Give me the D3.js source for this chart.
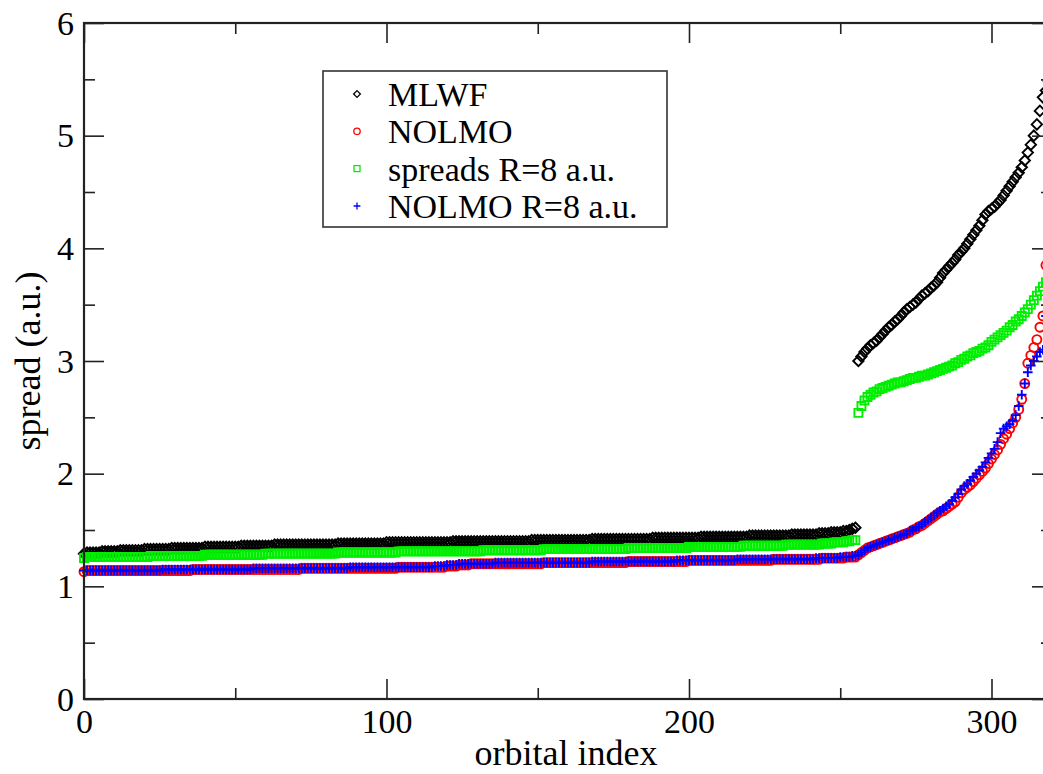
<!DOCTYPE html>
<html>
<head>
<meta charset="utf-8">
<script src="https://cdn.jsdelivr.net/npm/d3@7"></script>
<style>
  html, body { margin: 0; padding: 0; background: #fff; overflow: hidden; }
  svg { display: block; }
</style>
</head>
<body>
<svg id="chart" width="1043" height="774" font-family="Liberation Serif"></svg>
<script>
// Axis ticks
const xMajorTicks = [0, 100, 200, 300];
const xMinorTicks = [50, 150, 250];
const yMajorTicks = [0, 1, 2, 3, 4, 5, 6];
const yMinorTicks = [0.5, 1.5, 2.5, 3.5, 4.5, 5.5];

const seriesNames = ["MLWF", "NOLMO", "spreads R=8 a.u.", "NOLMO R=8 a.u."];

// Spread of each orbital (a.u.), listed by orbital index 0..319
const mlwf = [
  1.29,1.30,1.30,1.30,1.30,1.30,1.31,1.31,1.31,1.31,1.31,1.31,1.32,1.32,1.32,1.32,
  1.32,1.32,1.32,1.32,1.33,1.33,1.33,1.33,1.33,1.33,1.33,1.33,1.33,1.34,1.34,1.34,
  1.34,1.34,1.34,1.34,1.34,1.34,1.34,1.34,1.35,1.35,1.35,1.35,1.35,1.35,1.35,1.35,
  1.35,1.35,1.35,1.35,1.36,1.36,1.36,1.36,1.36,1.36,1.36,1.36,1.36,1.36,1.36,1.37,
  1.37,1.37,1.37,1.37,1.37,1.37,1.37,1.37,1.37,1.37,1.37,1.37,1.37,1.37,1.37,1.37,
  1.37,1.37,1.37,1.37,1.38,1.38,1.38,1.38,1.38,1.38,1.38,1.38,1.38,1.38,1.38,1.38,
  1.38,1.38,1.38,1.38,1.39,1.39,1.39,1.39,1.39,1.39,1.39,1.39,1.39,1.39,1.39,1.39,
  1.39,1.39,1.39,1.39,1.39,1.39,1.39,1.39,1.39,1.39,1.40,1.40,1.40,1.40,1.40,1.40,
  1.40,1.40,1.40,1.40,1.40,1.40,1.40,1.40,1.40,1.40,1.40,1.40,1.40,1.40,1.40,1.40,
  1.40,1.40,1.40,1.40,1.41,1.41,1.41,1.41,1.41,1.41,1.41,1.41,1.41,1.41,1.41,1.41,
  1.41,1.41,1.41,1.41,1.41,1.41,1.41,1.41,1.42,1.42,1.42,1.42,1.42,1.42,1.42,1.42,
  1.42,1.42,1.42,1.42,1.42,1.42,1.42,1.42,1.42,1.42,1.42,1.42,1.43,1.43,1.43,1.43,
  1.43,1.43,1.43,1.43,1.43,1.43,1.43,1.43,1.43,1.43,1.43,1.43,1.44,1.44,1.44,1.44,
  1.44,1.44,1.44,1.44,1.44,1.44,1.44,1.44,1.44,1.44,1.44,1.44,1.45,1.45,1.45,1.45,
  1.45,1.45,1.45,1.45,1.45,1.45,1.45,1.45,1.45,1.45,1.46,1.46,1.46,1.46,1.46,1.46,
  1.46,1.46,1.46,1.47,1.47,1.47,1.47,1.48,1.48,1.48,1.48,1.49,1.49,1.50,1.51,1.52,
  3.00,3.04,3.08,3.11,3.14,3.16,3.18,3.21,3.24,3.27,3.30,3.32,3.35,3.37,3.40,3.43,
  3.46,3.48,3.50,3.52,3.55,3.58,3.60,3.62,3.65,3.67,3.70,3.74,3.78,3.81,3.84,3.87,
  3.90,3.94,3.97,4.00,4.04,4.08,4.12,4.16,4.20,4.25,4.30,4.33,4.35,4.37,4.40,4.43,
  4.47,4.51,4.55,4.59,4.63,4.67,4.72,4.78,4.85,4.92,5.00,5.10,5.22,5.34,5.40,5.48
];

const nolmo = [
  1.13,1.14,1.14,1.14,1.14,1.14,1.14,1.14,1.14,1.14,1.14,1.14,1.14,1.14,1.14,1.14,
  1.14,1.14,1.14,1.14,1.14,1.14,1.14,1.14,1.14,1.14,1.14,1.14,1.14,1.14,1.14,1.14,
  1.14,1.14,1.14,1.14,1.15,1.15,1.15,1.15,1.15,1.15,1.15,1.15,1.15,1.15,1.15,1.15,
  1.15,1.15,1.15,1.15,1.15,1.15,1.15,1.15,1.15,1.15,1.15,1.15,1.15,1.15,1.15,1.15,
  1.15,1.15,1.15,1.15,1.15,1.15,1.15,1.15,1.16,1.16,1.16,1.16,1.16,1.16,1.16,1.16,
  1.16,1.16,1.16,1.16,1.16,1.16,1.16,1.16,1.16,1.16,1.16,1.16,1.16,1.16,1.16,1.16,
  1.16,1.16,1.16,1.16,1.16,1.16,1.16,1.16,1.17,1.17,1.17,1.17,1.17,1.17,1.17,1.17,
  1.17,1.17,1.17,1.17,1.17,1.17,1.17,1.17,1.18,1.18,1.18,1.18,1.19,1.19,1.19,1.19,
  1.20,1.20,1.20,1.20,1.20,1.20,1.20,1.20,1.20,1.20,1.20,1.20,1.20,1.20,1.20,1.20,
  1.20,1.20,1.20,1.20,1.20,1.20,1.20,1.20,1.21,1.21,1.21,1.21,1.21,1.21,1.21,1.21,
  1.21,1.21,1.21,1.21,1.21,1.21,1.21,1.21,1.21,1.21,1.21,1.21,1.21,1.21,1.21,1.21,
  1.21,1.21,1.21,1.21,1.22,1.22,1.22,1.22,1.22,1.22,1.22,1.22,1.22,1.22,1.22,1.22,
  1.22,1.22,1.22,1.22,1.22,1.22,1.22,1.22,1.23,1.23,1.23,1.23,1.23,1.23,1.23,1.23,
  1.23,1.23,1.23,1.23,1.23,1.23,1.23,1.23,1.23,1.23,1.23,1.23,1.23,1.23,1.23,1.23,
  1.23,1.23,1.23,1.23,1.24,1.24,1.24,1.24,1.24,1.24,1.24,1.24,1.24,1.24,1.24,1.24,
  1.24,1.24,1.24,1.24,1.25,1.25,1.25,1.25,1.25,1.25,1.25,1.25,1.26,1.26,1.26,1.26,
  1.28,1.30,1.32,1.34,1.35,1.36,1.37,1.38,1.39,1.40,1.41,1.42,1.43,1.44,1.45,1.46,
  1.47,1.48,1.50,1.51,1.53,1.54,1.56,1.58,1.60,1.62,1.64,1.66,1.67,1.69,1.71,1.73,
  1.75,1.79,1.83,1.86,1.88,1.90,1.93,1.96,1.99,2.02,2.05,2.09,2.13,2.17,2.21,2.26,
  2.31,2.35,2.40,2.45,2.50,2.57,2.66,2.80,2.98,3.05,3.12,3.19,3.30,3.40,3.85,3.95
];

const spreadsR8 = [
  1.25,1.26,1.26,1.26,1.26,1.26,1.26,1.26,1.26,1.26,1.26,1.26,1.26,1.26,1.26,1.26,
  1.26,1.26,1.26,1.26,1.26,1.26,1.27,1.27,1.27,1.27,1.27,1.27,1.27,1.27,1.27,1.27,
  1.27,1.27,1.27,1.27,1.27,1.27,1.27,1.27,1.28,1.28,1.28,1.28,1.28,1.28,1.28,1.28,
  1.28,1.28,1.28,1.28,1.28,1.28,1.28,1.28,1.28,1.28,1.28,1.28,1.29,1.29,1.29,1.29,
  1.29,1.29,1.29,1.29,1.29,1.29,1.29,1.29,1.29,1.29,1.29,1.29,1.29,1.29,1.29,1.29,
  1.29,1.29,1.29,1.29,1.30,1.30,1.30,1.30,1.30,1.30,1.30,1.30,1.30,1.30,1.30,1.30,
  1.30,1.30,1.30,1.30,1.30,1.30,1.30,1.30,1.31,1.31,1.31,1.31,1.31,1.31,1.31,1.31,
  1.31,1.31,1.31,1.31,1.31,1.31,1.31,1.31,1.31,1.31,1.31,1.31,1.31,1.31,1.31,1.31,
  1.31,1.31,1.31,1.31,1.32,1.32,1.32,1.32,1.32,1.32,1.32,1.32,1.32,1.32,1.32,1.32,
  1.32,1.32,1.32,1.32,1.32,1.32,1.32,1.32,1.33,1.33,1.33,1.33,1.33,1.33,1.33,1.33,
  1.33,1.33,1.33,1.33,1.33,1.33,1.33,1.33,1.33,1.33,1.33,1.33,1.33,1.33,1.33,1.33,
  1.33,1.33,1.33,1.33,1.34,1.34,1.34,1.34,1.34,1.34,1.34,1.34,1.34,1.34,1.34,1.34,
  1.34,1.34,1.34,1.34,1.34,1.34,1.34,1.34,1.35,1.35,1.35,1.35,1.35,1.35,1.35,1.35,
  1.35,1.35,1.35,1.35,1.35,1.35,1.35,1.35,1.35,1.35,1.36,1.36,1.36,1.36,1.36,1.36,
  1.36,1.36,1.36,1.36,1.36,1.36,1.36,1.36,1.37,1.37,1.37,1.37,1.37,1.37,1.37,1.37,
  1.37,1.37,1.37,1.37,1.38,1.38,1.38,1.38,1.39,1.39,1.39,1.39,1.40,1.40,1.41,1.41,
  2.54,2.60,2.65,2.68,2.70,2.72,2.73,2.75,2.76,2.77,2.78,2.79,2.80,2.81,2.81,2.82,
  2.83,2.84,2.85,2.85,2.86,2.87,2.87,2.88,2.89,2.90,2.91,2.92,2.93,2.94,2.95,2.96,
  2.98,2.99,3.01,3.02,3.04,3.05,3.07,3.08,3.09,3.11,3.12,3.14,3.17,3.19,3.21,3.23,
  3.25,3.27,3.30,3.32,3.35,3.37,3.40,3.43,3.46,3.50,3.54,3.58,3.62,3.66,3.70,3.75
];

const nolmoR8 = [
  1.14,1.14,1.14,1.14,1.14,1.14,1.14,1.14,1.14,1.14,1.14,1.14,1.14,1.14,1.14,1.14,
  1.14,1.14,1.14,1.14,1.14,1.14,1.14,1.14,1.14,1.14,1.15,1.15,1.15,1.15,1.15,1.15,
  1.15,1.15,1.15,1.15,1.15,1.15,1.15,1.15,1.15,1.15,1.15,1.15,1.15,1.15,1.15,1.15,
  1.15,1.15,1.15,1.15,1.15,1.15,1.15,1.15,1.16,1.16,1.16,1.16,1.16,1.16,1.16,1.16,
  1.16,1.16,1.16,1.16,1.16,1.16,1.16,1.16,1.16,1.16,1.16,1.16,1.16,1.16,1.16,1.16,
  1.16,1.16,1.16,1.16,1.16,1.16,1.16,1.16,1.17,1.17,1.17,1.17,1.17,1.17,1.17,1.17,
  1.17,1.17,1.17,1.17,1.17,1.17,1.17,1.17,1.17,1.17,1.17,1.17,1.17,1.17,1.17,1.17,
  1.17,1.17,1.17,1.17,1.18,1.18,1.18,1.18,1.19,1.19,1.19,1.19,1.20,1.20,1.20,1.20,
  1.20,1.20,1.20,1.20,1.20,1.20,1.20,1.20,1.21,1.21,1.21,1.21,1.21,1.21,1.21,1.21,
  1.21,1.21,1.21,1.21,1.21,1.21,1.21,1.21,1.21,1.21,1.21,1.21,1.21,1.21,1.21,1.21,
  1.21,1.21,1.21,1.21,1.21,1.21,1.21,1.21,1.22,1.22,1.22,1.22,1.22,1.22,1.22,1.22,
  1.22,1.22,1.22,1.22,1.22,1.22,1.22,1.22,1.22,1.22,1.22,1.22,1.22,1.22,1.22,1.22,
  1.22,1.22,1.22,1.22,1.23,1.23,1.23,1.23,1.23,1.23,1.23,1.23,1.23,1.23,1.23,1.23,
  1.23,1.23,1.23,1.23,1.23,1.23,1.23,1.23,1.24,1.24,1.24,1.24,1.24,1.24,1.24,1.24,
  1.24,1.24,1.24,1.24,1.24,1.24,1.24,1.24,1.24,1.24,1.24,1.24,1.24,1.24,1.24,1.24,
  1.24,1.24,1.25,1.25,1.25,1.25,1.25,1.25,1.25,1.25,1.26,1.26,1.26,1.26,1.27,1.27,
  1.28,1.30,1.32,1.34,1.35,1.36,1.37,1.38,1.39,1.40,1.41,1.42,1.43,1.44,1.45,1.46,
  1.47,1.49,1.50,1.52,1.53,1.55,1.57,1.59,1.61,1.63,1.65,1.67,1.69,1.71,1.73,1.76,
  1.79,1.82,1.86,1.89,1.91,1.94,1.97,2.00,2.03,2.06,2.10,2.14,2.18,2.22,2.28,2.36,
  2.40,2.42,2.44,2.47,2.52,2.60,2.70,2.80,2.90,2.96,3.00,3.04,3.08,3.10,3.40,3.60
];

const seriesValues = [mlwf, nolmo, spreadsR8, nolmoR8];
const seriesColors = ["#000000", "#ff0000", "#00ee00", "#0000ff"];
const seriesSymbols = ["diamond", "circle", "square", "plus"];

const serifFont = "Liberation Serif";

// Layout
const svg = d3.select("#chart");
const x = d3.scaleLinear().domain([0, 320]).range([84, 1052]);
const y = d3.scaleLinear().domain([0, 6]).range([699, 23]);
const frameColor = "#222";

svg.append("rect").attr("width", 1043).attr("height", 774).attr("fill", "#fff");

// Marker path generators (xmgrace-style)
function symbolPath(kind, r) {
  switch (kind) {
    case "diamond": return `M0,${-r}L${r},0L0,${r}L${-r},0Z`;
    case "square": return `M${-r},${-r}H${r}V${r}H${-r}Z`;
    case "plus": return `M${-r},0H${r}M0,${-r}V${r}`;
    default: return `M${r},0A${r},${r} 0 1,1 ${-r},0A${r},${r} 0 1,1 ${r},0Z`;
  }
}
const markerSize = { diamond: 5.2, circle: 4.5, square: 4.0, plus: 4.8 };
const legendSize = { diamond: 3.4, circle: 3.2, square: 3.0, plus: 3.4 };

// Data markers, in series order
seriesValues.forEach((vals, s) => {
  const kind = seriesSymbols[s];
  const d = symbolPath(kind, markerSize[kind]);
  svg.append("g")
    .selectAll("path")
    .data(vals)
    .join("path")
    .attr("transform", (v, i) => `translate(${x(i)},${y(v)})`)
    .attr("d", d)
    .attr("fill", "none")
    .attr("stroke", seriesColors[s])
    .attr("stroke-width", 1.9);
});

// Frame
svg.append("rect")
  .attr("x", x(0)).attr("y", y(6))
  .attr("width", x(320) - x(0)).attr("height", y(0) - y(6))
  .attr("fill", "none").attr("stroke", frameColor).attr("stroke-width", 2.2);

// Axes with inward ticks on all four sides
function styleAxis(g) {
  g.attr("font-family", serifFont).attr("font-size", 34);
  g.select(".domain").remove();
  g.selectAll("line").attr("stroke", frameColor).attr("stroke-width", 1.6);
  g.selectAll("text").attr("fill", "#000")
    .attr("font-family", serifFont).attr("font-size", 34);
}
const xAxes = [
  [d3.axisBottom(x).tickValues(xMajorTicks).tickSize(-20).tickFormat(d3.format("d")), y(0), true],
  [d3.axisBottom(x).tickValues(xMinorTicks).tickSize(-11).tickFormat(""), y(0), false],
  [d3.axisTop(x).tickValues(xMajorTicks).tickSize(-20).tickFormat(""), y(6), false],
  [d3.axisTop(x).tickValues(xMinorTicks).tickSize(-11).tickFormat(""), y(6), false]
];
xAxes.forEach(([ax, ty, labelled]) => {
  const g = svg.append("g").attr("transform", `translate(0,${ty})`).call(ax).call(styleAxis);
  if (labelled) g.selectAll("text").attr("dy", null).attr("y", 34);
});
const yAxes = [
  [d3.axisLeft(y).tickValues(yMajorTicks).tickSize(-20).tickFormat(d3.format("d")), x(0), true],
  [d3.axisLeft(y).tickValues(yMinorTicks).tickSize(-11).tickFormat(""), x(0), false],
  [d3.axisRight(y).tickValues(yMajorTicks).tickSize(-20).tickFormat(""), x(320), false],
  [d3.axisRight(y).tickValues(yMinorTicks).tickSize(-11).tickFormat(""), x(320), false]
];
yAxes.forEach(([ax, tx, labelled]) => {
  const g = svg.append("g").attr("transform", `translate(${tx},0)`).call(ax).call(styleAxis);
  if (labelled) g.selectAll("text").attr("dy", null).attr("x", -10).attr("y", 11);
});

// Axis titles
svg.append("text")
  .attr("x", 566).attr("y", 765)
  .attr("text-anchor", "middle")
  .attr("font-family", serifFont)
  .attr("font-size", 36)
  .text("orbital index");
svg.append("text")
  .attr("transform", "translate(40,361) rotate(-90)")
  .attr("text-anchor", "middle")
  .attr("font-family", serifFont)
  .attr("font-size", 36)
  .text("spread (a.u.)");

// Legend
const legend = svg.append("g");
legend.append("rect")
  .attr("x", 323).attr("y", 71).attr("width", 344).attr("height", 156)
  .attr("fill", "#fff").attr("stroke", "#333").attr("stroke-width", 1.6);
const rowY = d3.scaleLinear().domain([0, 3]).range([94, 206]);
seriesNames.forEach((name, s) => {
  const kind = seriesSymbols[s];
  legend.append("path")
    .attr("transform", `translate(357,${rowY(s)})`)
    .attr("d", symbolPath(kind, legendSize[kind]))
    .attr("fill", "none").attr("stroke", seriesColors[s]).attr("stroke-width", 1.3);
  legend.append("text")
    .attr("x", 388).attr("y", rowY(s) + 12)
    .attr("font-family", serifFont)
    .attr("font-size", 34)
    .text(name);
});
</script>
</body>
</html>
